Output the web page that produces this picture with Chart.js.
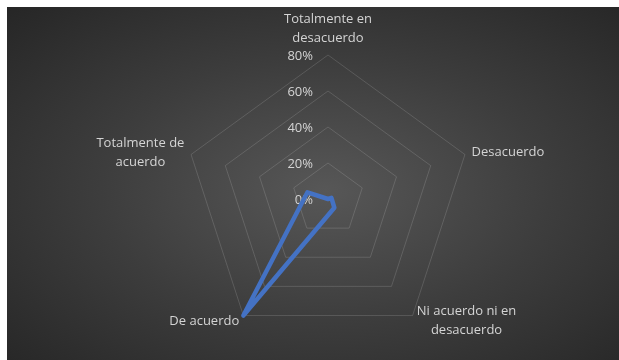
<!DOCTYPE html>
<html lang="es">
<head>
<meta charset="utf-8">
<title>Grado de acuerdo</title>
<script src="https://cdn.jsdelivr.net/npm/chart.js@4.4.1/dist/chart.umd.min.js"></script>
<style>
  html, body { margin: 0; padding: 0; background: #fff; }
  #marco { position: relative; width: 619px; height: 360px; overflow: hidden; }
  #fondo {
    position: absolute; left: 7px; top: 7px; right: 0; bottom: 0;
    background: radial-gradient(ellipse farthest-corner at 52% 52%, #575757 0%, #3d3d3d 50%, #262626 100%);
  }
  canvas { position: absolute; left: 0; top: 0; }
</style>
</head>
<body>
<div id="marco">
  <div id="fondo"></div>
  <canvas id="grafico" width="619" height="360"></canvas>
</div>
<script>
// categorías del eje (en orden horario desde arriba) y porcentaje de respuestas
const categorias = [
  ["Totalmente en", "desacuerdo"],
  "Desacuerdo",
  ["Ni acuerdo ni en", "desacuerdo"],
  "De acuerdo",
  ["Totalmente de", "acuerdo"]
];
const porcentajes = [0, 2, 6, 80, 12];
const escalaMin = 0;
const escalaMax = 80;
const escalaPaso = 20;

const colorTexto = "#d4d4d4";
const fuente = '13px "Open Sans", "DejaVu Sans", sans-serif';

// Chart.js no pinta la etiqueta 0% ni centra las categorías como queremos,
// así que las dibujamos a mano a partir de la escala radial
const etiquetasTicks = {
    id: "etiquetasTicks",
    beforeDatasetsDraw(chart) {
        const r = chart.scales.r;
        const ctx = chart.ctx;
        ctx.save();
        ctx.font = fuente;
        ctx.fillStyle = colorTexto;
        ctx.textAlign = "right";
        ctx.textBaseline = "middle";
        r.ticks.forEach(t => {
            const y = r.yCenter - r.getDistanceFromCenterForValue(t.value);
            ctx.fillText(`${t.value}%`, r.xCenter - 15, y + 1.5);
        });
        ctx.restore();
    }
};

const etiquetasCategorias = {
    id: "etiquetasCategorias",
    afterDraw(chart) {
        const r = chart.scales.r;
        const ctx = chart.ctx;
        const alto = 19;
        ctx.save();
        ctx.font = fuente;
        ctx.fillStyle = colorTexto;
        ctx.textAlign = "center";
        ctx.textBaseline = "middle";

        chart.data.labels.forEach((lbl, i) => {
            const lineas = Array.isArray(lbl) ? lbl : [lbl];
            const p = r.getPointPosition(i, r.drawingArea + 7);
            const ancho = Math.max(...lineas.map(l => ctx.measureText(l).width));
            const dx = p.x - r.xCenter;

            let cx = p.x;
            if (dx > 1) cx = p.x + ancho / 2;
            else if (dx < -1) cx = p.x - ancho / 2;

            let arriba;
            if (Math.abs(dx) <= 1 && p.y < r.yCenter) arriba = p.y - lineas.length * alto;
            else arriba = p.y - lineas.length * alto / 2;

            lineas.forEach((l, k) => {
                ctx.fillText(l, cx, arriba + alto * (k + 0.5));
            });
        });
        ctx.restore();
    }
};

new Chart(document.getElementById("grafico"), {
    type: "radar",
    data: {
        labels: categorias,
        datasets: [{
            label: "Respuestas",
            data: porcentajes,
            borderColor: "#4472c4",
            borderWidth: 4.5,
            borderJoinStyle: "round",
            fill: false,
            pointRadius: 0,
            pointHoverRadius: 0
        }]
    },
    options: {
        responsive: false,
        animation: false,
        layout: {
            padding: { left: 37, right: 0, top: 55, bottom: 17 }
        },
        plugins: {
            legend: { display: false },
            tooltip: { enabled: false }
        },
        scales: {
            r: {
                min: escalaMin,
                max: escalaMax,
                ticks: { display: false, stepSize: escalaPaso },
                pointLabels: { display: false },
                angleLines: { display: false },
                grid: { color: "rgba(255,255,255,0.14)", lineWidth: 1 }
            }
        }
    },
    plugins: [etiquetasTicks, etiquetasCategorias]
});
</script>
</body>
</html>
